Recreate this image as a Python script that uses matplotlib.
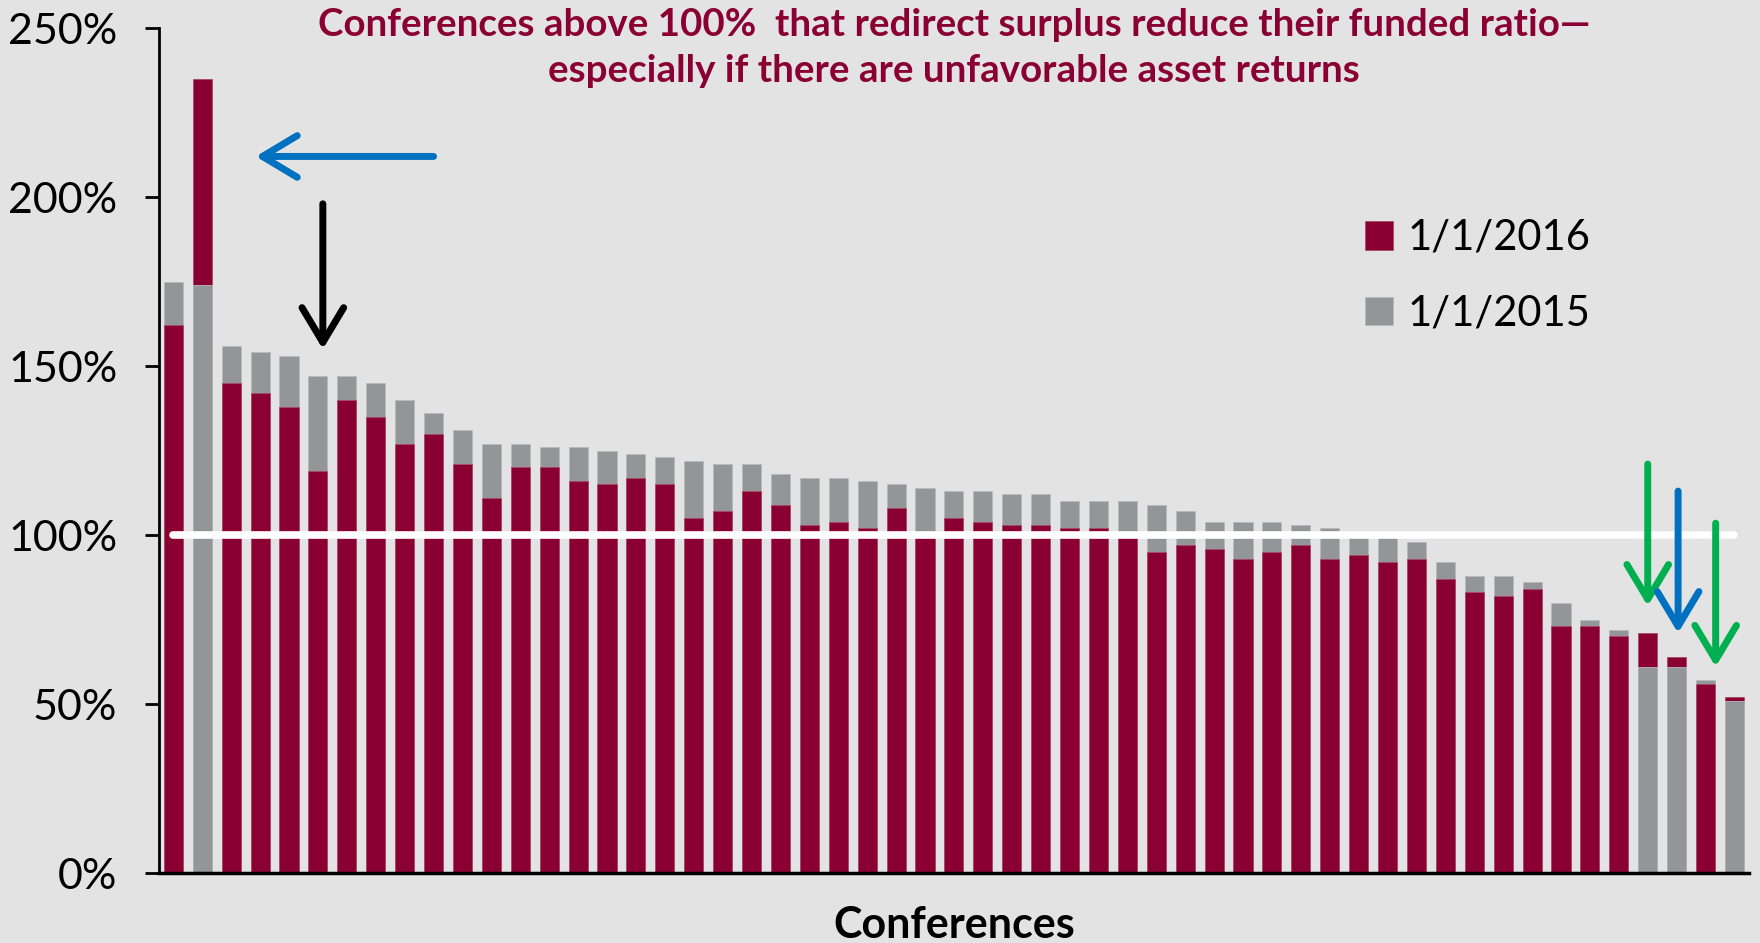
import matplotlib
matplotlib.use("Agg")
import matplotlib.pyplot as plt
import matplotlib.transforms as mtransforms
from matplotlib.patches import FancyArrowPatch
from matplotlib.ticker import FuncFormatter

# funded ratio by conference (%), sorted by the 1/1/2015 ranking
funded_2016 = [162, 235, 145, 142, 138, 119, 140, 135, 127, 130,
               121, 111, 120, 120, 116, 115, 117, 115, 105, 107,
               113, 109, 103, 104, 102, 108, 100, 105, 104, 103,
               103, 102, 102, 100, 95, 97, 96, 93, 95, 97,
               93, 94, 92, 93, 87, 83, 82, 84, 73, 73,
               70, 71, 64, 56, 52]
funded_2015 = [175, 174, 156, 154, 153, 147, 147, 145, 140, 136,
               131, 127, 127, 126, 126, 125, 124, 123, 122, 121,
               121, 118, 117, 117, 116, 115, 114, 113, 113, 112,
               112, 110, 110, 110, 109, 107, 104, 104, 104, 103,
               102, 100, 100, 98, 92, 88, 88, 86, 80, 75,
               72, 61, 61, 57, 51]
series_labels = ["1/1/2016", "1/1/2015"]
y_ticks = [0, 50, 100, 150, 200, 250]
title_lines = ["Conferences above 100%  that redirect surplus reduce their funded ratio\u2014",
               "especially if there are unfavorable asset returns"]

MAROON = "#8A0033"
GRAY = "#939598"
BG = "#E3E3E3"
BLUE = "#0070C0"
GREEN = "#00B050"

plt.rcParams["font.family"] = ["Lato", "DejaVu Sans"]

fig = plt.figure(figsize=(17.6, 9.43), dpi=100, facecolor=BG)
ax = fig.add_axes([0.0903, 0.0742, 0.9034, 0.8961], facecolor=BG)

x = list(range(len(funded_2016)))
b16 = ax.bar(x, funded_2016, width=0.66, color=MAROON, edgecolor="#A84A68",
             linewidth=0.6, label=series_labels[0])
b15 = ax.bar(x, funded_2015, width=0.66, color=GRAY, edgecolor="#B8B9BB",
             linewidth=0.6, label=series_labels[1])

# the shorter bar of each pair sits in front of the taller one
for p16, p15, v16, v15 in zip(b16.patches, b15.patches, funded_2016, funded_2015):
    if v16 <= v15:
        p16.set_zorder(3)
        p15.set_zorder(2)
    else:
        p16.set_zorder(2)
        p15.set_zorder(3)

# 100% reference line
ax.plot([0, len(x) - 1], [100, 100], color="white", lw=5.5,
        solid_capstyle="round", zorder=4)

ax.set_xlim(-0.5, len(x) - 0.5)
ax.set_ylim(0, 250)
ax.set_yticks(y_ticks)
ax.yaxis.set_major_formatter(FuncFormatter(lambda v, _: f"{v:.0f}%"))
ax.set_xticks([])
ax.tick_params(axis="y", length=10, width=2, pad=20, labelsize=31,
               direction="out", color="black")
for s in ("top", "right"):
    ax.spines[s].set_visible(False)
ax.spines["left"].set_linewidth(2)
ax.spines["bottom"].set_linewidth(2.5)
ax.spines["bottom"].set_zorder(5)

ax.set_xlabel("Conferences", fontsize=31, fontweight="bold", labelpad=23)

# two-line headline centred over the plot area
head_tf = mtransforms.blended_transform_factory(ax.transAxes, fig.transFigure)
for ty, line in zip([0.9738, 0.925], title_lines):
    ax.text(0.5, ty, line, transform=head_tf, ha="center", va="center",
            fontsize=27.7, fontweight="bold", color=MAROON)

leg = ax.legend(handles=[b16, b15], loc="upper left",
                bbox_to_anchor=(1365 / 1760, 1 - 219 / 943),
                bbox_transform=fig.transFigure, frameon=False, fontsize=30,
                handlelength=0.67, handleheight=0.67, handletextpad=0.35,
                labelspacing=0.9, borderpad=0, borderaxespad=0)


def arrow(x0, y0, x1, y1, color):
    a = FancyArrowPatch((x0, y0), (x1, y1),
                        arrowstyle="->,head_length=1.25,head_width=0.75",
                        mutation_scale=20, color=color, lw=5,
                        capstyle="round", joinstyle="round",
                        shrinkA=0, shrinkB=0, zorder=6)
    ax.add_patch(a)


arrow(9.0, 212, 2.85, 212, BLUE)
arrow(5.17, 198, 5.17, 155, "black")
arrow(51.0, 121, 51.0, 79, GREEN)
arrow(52.05, 113, 52.05, 71, BLUE)
arrow(53.35, 103.5, 53.35, 61, GREEN)

fig.savefig("out.png", dpi=100, facecolor=BG)
